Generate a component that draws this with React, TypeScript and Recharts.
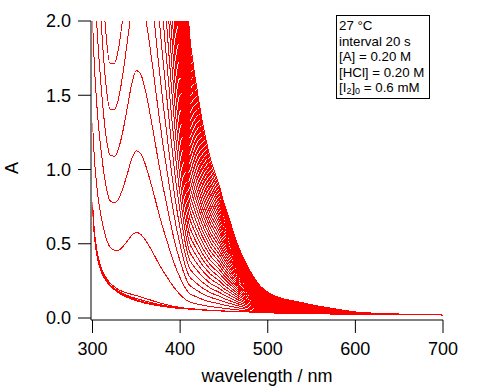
import React from "react";
import { LineChart, Line, XAxis, YAxis, Label } from "recharts";

// wavelength grid (nm)
const wavelengths = [
  300, 302, 305, 310, 315, 320, 325, 330, 335, 340, 345, 350, 355, 360, 365, 370, 375, 380, 385, 390,
  395, 400, 405, 410, 415, 420, 425, 430, 435, 440, 445, 450, 455, 460, 465, 470, 475, 480, 485, 490,
  495, 500, 510, 520, 530, 540, 550, 560, 570, 580, 590, 600, 620, 640, 660, 680, 700,
];

// triiodide band profile (normalised to 1 at 350 nm)
const i3Profile = [
  1.25, 1.15, 1.0, 0.8, 0.64, 0.57, 0.58, 0.63, 0.72, 0.83, 0.94, 1.0, 0.99, 0.93, 0.84, 0.74, 0.63, 0.53, 0.44, 0.35,
  0.27, 0.205, 0.148, 0.108, 0.093, 0.082, 0.072, 0.064, 0.057, 0.052, 0.047, 0.041, 0.036, 0.031, 0.026, 0.022, 0.0185, 0.0155, 0.0128, 0.0105,
  0.009, 0.0078, 0.0063, 0.0053, 0.0047, 0.0041, 0.0034, 0.0028, 0.0023, 0.0018, 0.0013, 0.0009, 0.0005, 0.0003, 0.0002, 0.0001, 0,
];

// final (iodine-free) spectrum
const baseline = [
  0.74, 0.56, 0.42, 0.31, 0.255, 0.215, 0.19, 0.168, 0.152, 0.138, 0.126, 0.116, 0.108, 0.1, 0.094, 0.088, 0.083, 0.078, 0.074, 0.07,
  0.067, 0.064, 0.062, 0.06, 0.058, 0.056, 0.054, 0.052, 0.05, 0.049, 0.048, 0.046, 0.045, 0.044, 0.043, 0.042, 0.041, 0.04, 0.039, 0.038,
  0.036, 0.035, 0.033, 0.032, 0.031, 0.03, 0.029, 0.028, 0.027, 0.026, 0.026, 0.025, 0.024, 0.023, 0.022, 0.021, 0.02,
];

// band height above baseline at 350 nm for each scan (every 20 s)
const amplitudes = [
  17.76, 17.22, 16.68, 16.14, 15.6, 15.06, 14.52, 13.98, 13.44, 12.9, 12.36, 11.82, 11.28, 10.74, 10.2, 9.66, 9.12,
  8.58, 8.04, 7.5, 6.96, 6.42, 5.88, 5.34, 4.8, 4.26, 3.72, 3.18, 2.63, 2.09, 1.55, 1.01, 0.46, 0.035, 0.015, 0.006, 0,
];

const xTicks = [300, 400, 500, 600, 700];
const yTicks = [0, 0.5, 1.0, 1.5, 2.0];

const rows = wavelengths.map((wl, i) => {
  const row: Record<string, number> = { wl };
  amplitudes.forEach((a, k) => {
    row["s" + k] = baseline[i] + a * i3Profile[i];
  });
  return row;
});

const FONT = "'Liberation Sans', Arial, sans-serif";

export default function App() {
  return (
    <div style={{ position: "absolute", left: 0, top: 0, width: 486, height: 387, background: "#fff" }}>
      <LineChart
        width={486}
        height={387}
        data={rows}
        margin={{ top: 21, right: 43, bottom: 0, left: 31 }}
      >
        <XAxis
          dataKey="wl"
          type="number"
          domain={[300, 700]}
          ticks={xTicks}
          allowDataOverflow
          padding={{ left: 1.5, right: 0 }}
          height={67}
          tickSize={13}
          tickMargin={9.5}
          stroke="#000"
          tick={{ fill: "#000", fontSize: 18, fontFamily: FONT }}
          tickLine={{ stroke: "#000" }}
        >
          <Label
            value="wavelength / nm"
            position="insideBottom"
            offset={5}
            style={{ fill: "#000", fontSize: 18, fontFamily: FONT }}
          />
        </XAxis>
        <YAxis
          type="number"
          domain={[0, 2]}
          ticks={yTicks}
          allowDataOverflow
          padding={{ top: 0, bottom: 2 }}
          width={60}
          tickSize={13}
          tickMargin={7}
          stroke="#000"
          tickFormatter={(v: number) => v.toFixed(1)}
          tick={{ fill: "#000", fontSize: 18, fontFamily: FONT }}
          tickLine={{ stroke: "#000" }}
        >
          <Label
            content={() => (
              <text
                x={12}
                y={168}
                transform="rotate(-90 12 168)"
                textAnchor="middle"
                dominantBaseline="central"
                style={{ fill: "#000", fontSize: 18, fontFamily: FONT }}
              >
                A
              </text>
            )}
          />
        </YAxis>
        {amplitudes.map((_, k) => (
          <Line
            key={k}
            dataKey={"s" + k}
            type="monotone"
            stroke="#ff0000"
            strokeWidth={1}
            shapeRendering="crispEdges"
            dot={false}
            activeDot={false}
            isAnimationActive={false}
          />
        ))}
      </LineChart>
      <div
        style={{
          position: "absolute",
          left: 336,
          top: 15,
          width: 94,
          height: 84,
          border: "1px solid #000",
          background: "#fff",
          fontFamily: FONT,
          fontSize: 13.3,
          lineHeight: "15.6px",
          color: "#000",
          padding: "2px 0 0 2px",
          boxSizing: "border-box",
          whiteSpace: "nowrap",
        }}
      >
        <div>27 °C</div>
        <div>interval 20 s</div>
        <div>[A] = 0.20 M</div>
        <div>[HCl] = 0.20 M</div>
        <div>
          [I<sub style={{ fontSize: 9, verticalAlign: "-2px", lineHeight: 0 }}>2</sub>]
          <sub style={{ fontSize: 9, verticalAlign: "-2px", lineHeight: 0 }}>0</sub> = 0.6 mM
        </div>
      </div>
    </div>
  );
}
